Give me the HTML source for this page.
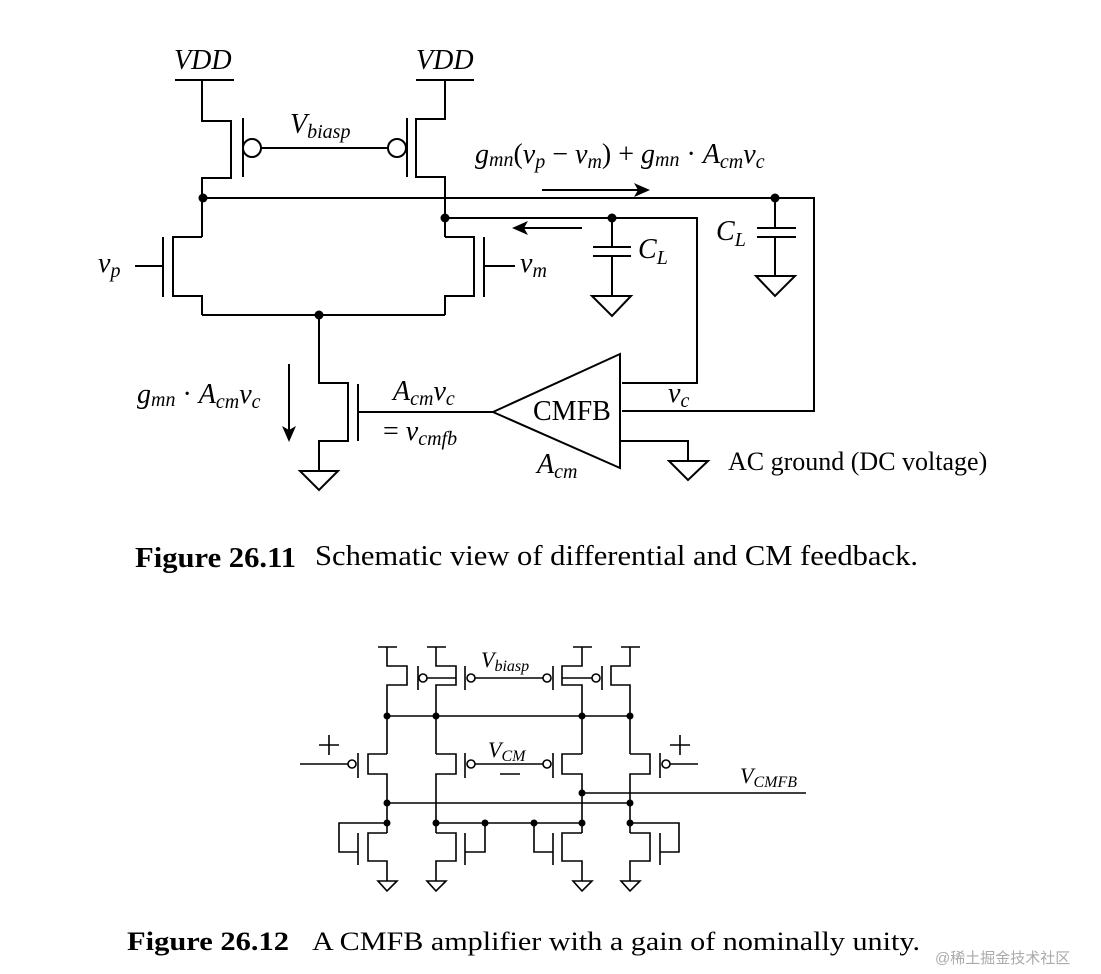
<!DOCTYPE html>
<html><head><meta charset="utf-8"><style>
html,body{margin:0;padding:0;background:#fff;}
svg{display:block;}
text{font-family:"Liberation Serif",serif;fill:#000;}
.i{font-style:italic;}
</style></head><body>
<svg width="1101" height="974" viewBox="0 0 1101 974" xmlns="http://www.w3.org/2000/svg">
<g fill="none" stroke="#000" stroke-width="2">
<path d="M175 80H234M416 80H474"/>
<path d="M202 80V121H231V178H202V237"/>
<path d="M243 118V177"/>
<circle cx="252" cy="148" r="9"/>
<path d="M261 148H388"/>
<circle cx="397" cy="148" r="9"/>
<path d="M407 118V177"/>
<path d="M445 80V119H416V177H445V237"/>
<path d="M203 198H814V411H622"/>
<path d="M445 218H697V383H622"/>
<path d="M775 198V228M757 228H796M757 237H796M775 237V276M756 276H795L775 296Z"/>
<path d="M612 218V247M593 247H631M593 256H631M612 256V296M592 296H631L612 316Z"/>
<path d="M202 237H173V296H202V315M163 237V297M135 266H163"/>
<path d="M445 237H474V296H445V315M484 237V297M484 266H515"/>
<path d="M202 315H445"/>
<path d="M319 315V383H348V441H319V471M300 471H338L319 490Z"/>
<path d="M358 384V441M358 412H493"/>
<path d="M493 412L620 354V468Z"/>
<path d="M620 441H688V461M669 461H708L688 480Z"/>
<path d="M542 190H640M289 364V430M582 228H522"/>
</g>
<g fill="#000">
<path d="M650 190L634 183L638 190L634 197Z"/>
<path d="M512 228L528 221L524 228L528 235Z"/>
<path d="M289 442L282 426L289 430L296 426Z"/>
<circle cx="203" cy="198" r="4.5"/><circle cx="445" cy="218" r="4.5"/>
<circle cx="612" cy="218" r="4.5"/><circle cx="775" cy="198" r="4.5"/>
<circle cx="319" cy="315" r="4.5"/>
</g>
<g font-size="28">
<text x="174" y="69" class="i">VDD</text>
<text x="416" y="69" class="i">VDD</text>
<text x="290" y="133" class="i">V<tspan font-size="20" dy="5">biasp</tspan></text>
<text x="475" y="163" class="i">g<tspan font-size="20" dy="3">mn</tspan><tspan dy="-3" font-style="normal">(</tspan>v<tspan font-size="20" dy="5">p</tspan><tspan dy="-5" font-style="normal"> − </tspan>v<tspan font-size="20" dy="5">m</tspan><tspan dy="-5" font-style="normal">) + </tspan>g<tspan font-size="20" dy="3">mn</tspan><tspan dy="-3" font-style="normal"> · </tspan>A<tspan font-size="20" dy="5">cm</tspan><tspan dy="-5">v</tspan><tspan font-size="20" dy="5">c</tspan></text>
<text x="98" y="272" class="i">v<tspan font-size="20" dy="5">p</tspan></text>
<text x="520" y="272" class="i">v<tspan font-size="20" dy="5">m</tspan></text>
<text x="638" y="258" class="i">C<tspan font-size="20" dy="6">L</tspan></text>
<text x="716" y="240" class="i">C<tspan font-size="20" dy="6">L</tspan></text>
<text x="137" y="403" class="i">g<tspan font-size="20" dy="3">mn</tspan><tspan dy="-3" font-style="normal"> · </tspan>A<tspan font-size="20" dy="5">cm</tspan><tspan dy="-5">v</tspan><tspan font-size="20" dy="5">c</tspan></text>
<text x="393" y="400" class="i">A<tspan font-size="20" dy="5">cm</tspan><tspan dy="-5">v</tspan><tspan font-size="20" dy="5">c</tspan></text>
<text x="383" y="440"><tspan>= </tspan><tspan class="i">v</tspan><tspan class="i" font-size="20" dy="5">cmfb</tspan></text>
<text x="533" y="420">CMFB</text>
<text x="537" y="473" class="i">A<tspan font-size="20" dy="5">cm</tspan></text>
<text x="668" y="402" class="i">v<tspan font-size="20" dy="5">c</tspan></text>
<text x="728" y="470" font-size="26">AC ground (DC voltage)</text>
</g>
<text x="135" y="567" font-size="28" font-weight="bold" textLength="161" lengthAdjust="spacingAndGlyphs">Figure 26.11</text>
<text x="315" y="565" font-size="28" textLength="603" lengthAdjust="spacingAndGlyphs">Schematic view of differential and CM feedback.</text>

<g fill="none" stroke="#000" stroke-width="1.6">
<path d="M378 647H397M427 647H446M573 647H592M621 647H640"/>
<path d="M387 647V666H407V685H387V754"/>
<path d="M436 647V666H456V685H436V754"/>
<path d="M582 647V666H562V685H582V754"/>
<path d="M630 647V666H611V685H630V754"/>
<path d="M418 666V690M465 666V690M553 666V690M602 666V690"/>
<circle cx="423" cy="678" r="4"/><circle cx="471" cy="678" r="4"/>
<circle cx="547" cy="678" r="4"/><circle cx="596" cy="678" r="4"/>
<path d="M427 678H456M475 678H543M562 678H592"/>
<path d="M387 716H630M387 803H630M436 823H582M582 793H806"/>
<path d="M387 754H368V774H387V833"/>
<path d="M436 754H456V774H436V833"/>
<path d="M582 754H562V774H582V833"/>
<path d="M630 754H650V774H630V833"/>
<path d="M358 753V778M465 753V778M553 753V778M660 753V778"/>
<circle cx="352" cy="764" r="4"/><circle cx="471" cy="764" r="4"/>
<circle cx="547" cy="764" r="4"/><circle cx="666" cy="764" r="4"/>
<path d="M300 764H348M475 764H543M670 764H698"/>
<path d="M319 745H339M329 735V755M670 745H690M680 735V755M500 774H520"/>
<path d="M387 833H368V861H387V881M436 833H456V861H436V881M582 833H562V861H582V881M630 833H650V861H630V881"/>
<path d="M358 833V865M465 833V865M553 833V865M660 833V865"/>
<path d="M358 852H339V823H387M465 852H485V823M553 852H534V823M660 852H679V823H630"/>
<path d="M378 881H397L387 891ZM427 881H446L436 891ZM573 881H592L582 891ZM621 881H640L630 891Z"/>
</g>
<g fill="#000">
<circle cx="387" cy="716" r="3.5"/><circle cx="436" cy="716" r="3.5"/><circle cx="582" cy="716" r="3.5"/><circle cx="630" cy="716" r="3.5"/>
<circle cx="582" cy="793" r="3.5"/><circle cx="387" cy="803" r="3.5"/><circle cx="630" cy="803" r="3.5"/>
<circle cx="387" cy="823" r="3.5"/><circle cx="436" cy="823" r="3.5"/><circle cx="485" cy="823" r="3.5"/><circle cx="534" cy="823" r="3.5"/><circle cx="582" cy="823" r="3.5"/><circle cx="630" cy="823" r="3.5"/>
</g>
<g font-size="22">
<text x="481" y="667" class="i">V<tspan font-size="16" dy="4">biasp</tspan></text>
<text x="488" y="757" class="i">V<tspan font-size="16" dy="4">CM</tspan></text>
<text x="740" y="783" class="i">V<tspan font-size="16" dy="4">CMFB</tspan></text>
</g>
<text x="127" y="950" font-size="26" font-weight="bold" textLength="162" lengthAdjust="spacingAndGlyphs">Figure 26.12</text>
<text x="312" y="950" font-size="26" textLength="608" lengthAdjust="spacingAndGlyphs">A CMFB amplifier with a gain of nominally unity.</text>
<text x="935" y="963" font-size="15" style="font-family:'Liberation Sans','Noto Sans CJK SC',sans-serif;fill:#aaa">@稀土掘金技术社区</text>
</svg>
</body></html>
